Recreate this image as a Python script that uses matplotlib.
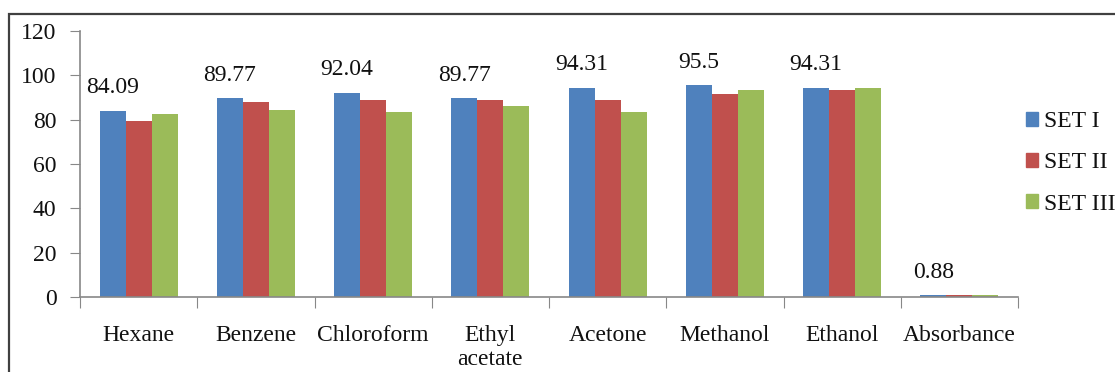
import numpy as np
import matplotlib
matplotlib.use("Agg")
from matplotlib import pyplot as plt
from matplotlib.patches import Patch, Rectangle

solvents = ['Hexane', 'Benzene', 'Chloroform', 'Ethyl\nacetate',
            'Acetone', 'Methanol', 'Ethanol', 'Absorbance']
set1 = [84.09, 89.77, 92.04, 89.77, 94.31, 95.5, 94.31, 0.88]
set2 = [79.5, 87.8, 88.9, 88.9, 88.9, 91.4, 93.4, 0.88]
set3 = [82.4, 84.2, 83.3, 86.0, 83.3, 93.4, 94.1, 0.88]
series_names = ['SET I', 'SET II', 'SET III']
colors = ['#4F81BD', '#C0504D', '#9BBB59']

plt.rcParams['font.family'] = ['Liberation Serif', 'DejaVu Serif']
fs = 17
txt = '#111111'

fig = plt.figure(figsize=(11.15, 3.72), dpi=100)
ax = fig.add_axes([80/1115, 1-297/372, (1018-80)/1115, (297-31)/372])

x = np.arange(len(solvents))
w = 0.222
for i, (vals, c, name) in enumerate(zip([set1, set2, set3], colors, series_names)):
    ax.bar(x + (i-1)*w, vals, w, color=c, label=name, zorder=1)

# value labels over the SET I bars
for xi, v in zip(x, set1):
    ax.annotate('%g' % v, (xi - w, v), xytext=(0, 9), textcoords='offset points',
                ha='center', va='bottom', fontsize=fs, color=txt)

ax.set_xlim(-0.5, len(solvents)-0.5)
ax.set_ylim(0, 120)
ax.set_yticks(range(0, 121, 20))
ax.set_xticks(np.arange(len(solvents)+1) - 0.5)
ax.set_xticklabels([])
ax.set_xticks(x, minor=True)
ax.set_xticklabels(solvents, minor=True, fontsize=fs, linespacing=1.2)
ax.tick_params(axis='x', which='major', length=8, color='#888888', direction='out')
ax.tick_params(axis='x', which='minor', length=0, pad=20)
ax.tick_params(axis='y', length=7, color='#888888', labelsize=fs, pad=10)
for t in ax.get_xticklabels(minor=True) + ax.get_yticklabels():
    t.set_color(txt)

for s in ['top', 'right']:
    ax.spines[s].set_visible(False)
for s in ['left', 'bottom']:
    ax.spines[s].set_color('#888888')
    ax.spines[s].set_linewidth(1.2)

handles = [Patch(color=c) for c in colors]
leg = fig.legend(handles, series_names, loc='center left',
                 bbox_to_anchor=(1026/1115, 1-163/372),
                 frameon=False, fontsize=fs, handlelength=0.5, handleheight=0.5,
                 handletextpad=0.25, labelspacing=0.85, borderpad=0, borderaxespad=0)
for t in leg.get_texts():
    t.set_color(txt)

# chart frame
fig.patches.append(Rectangle((9/1115, -0.2), 1.2, 1.2 - 14/372,
                             transform=fig.transFigure, fill=False,
                             edgecolor='#404040', linewidth=1.6))

fig.savefig('out.png', dpi=100)
